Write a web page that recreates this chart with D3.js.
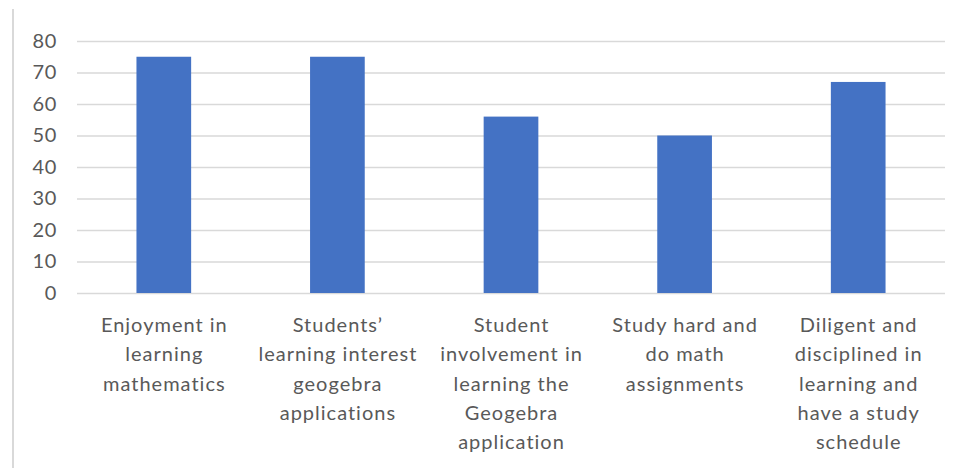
<!DOCTYPE html>
<html>
<head>
<meta charset="utf-8">
<script src="https://cdn.jsdelivr.net/npm/d3@7"></script>
<style>
  body { margin: 0; background: #fff; }
  svg { display: block; }
</style>
</head>
<body>
<div id="chart"></div>
<script>
const categories = [
  "Enjoyment in learning mathematics",
  "Students’ learning interest geogebra applications",
  "Student involvement in learning the Geogebra application",
  "Study hard and do math assignments",
  "Diligent and disciplined in learning and have a study schedule"
];
const labelLines = [
  ["Enjoyment in", "learning", "mathematics"],
  ["Students’", "learning interest", "geogebra", "applications"],
  ["Student", "involvement in", "learning the", "Geogebra", "application"],
  ["Study hard and", "do math", "assignments"],
  ["Diligent and", "disciplined in", "learning and", "have a study", "schedule"]
];
const values = [75, 75, 56, 50, 67];
const yTicks = [0, 10, 20, 30, 40, 50, 60, 70, 80];

const width = 960;
const height = 468;
const margin = { top: 41, left: 77, bottom: 175, right: 15 };
const iwidth = width - margin.left - margin.right;
const iheight = height - margin.top - margin.bottom;

const svg = d3.select("#chart").append("svg")
  .attr("width", width)
  .attr("height", height);

// left frame line
svg.append("line")
  .attr("x1", 13).attr("x2", 13)
  .attr("y1", 9).attr("y2", height)
  .attr("stroke", "#d9d9d9")
  .attr("stroke-width", 2);

const g1 = svg.append("g").attr("transform", `translate(${margin.left},${margin.top})`);

const y = d3.scaleLinear()
  .domain([0, 80])
  .range([iheight, 0]);

const x = d3.scaleBand()
  .domain(categories)
  .range([0, iwidth])
  .paddingInner(0.685)
  .paddingOuter(0.3425);

const yAxis = g1.append("g")
  .classed("y--axis", true)
  .call(d3.axisLeft(y).tickValues(yTicks).tickSize(-iwidth).tickPadding(20));
yAxis.select(".domain").remove();
yAxis.selectAll("line").attr("stroke", "#d9d9d9").attr("stroke-width", 1.5);
yAxis.selectAll("text")
  .attr("fill", "#595959")
  .style("font-family", "Lato, 'Open Sans', sans-serif")
  .style("font-size", "20px")
  .style("letter-spacing", "0.6px");

g1.selectAll("rect.bar").data(values).enter().append("rect")
  .attr("class", "bar")
  .attr("fill", "#4472C4")
  .attr("x", (d, i) => x(categories[i]))
  .attr("y", d => y(d))
  .attr("width", x.bandwidth())
  .attr("height", d => iheight - y(d));

const xAxis = g1.append("g")
  .classed("x--axis", true)
  .attr("transform", `translate(0, ${iheight})`)
  .call(d3.axisBottom(x).tickSize(0).tickFormat(""));
xAxis.select(".domain").remove();

xAxis.selectAll(".tick").each(function(d, i) {
  const t = d3.select(this).append("text")
    .attr("fill", "#595959")
    .attr("text-anchor", "middle")
    .style("font-family", "Lato, 'Open Sans', sans-serif")
    .style("font-size", "20px")
    .style("letter-spacing", "1px");
  labelLines[i].forEach((line, j) => {
    t.append("tspan")
      .attr("x", 0.5)
      .attr("y", 39 + j * 29.3)
      .text(line);
  });
});
</script>
</body>
</html>
